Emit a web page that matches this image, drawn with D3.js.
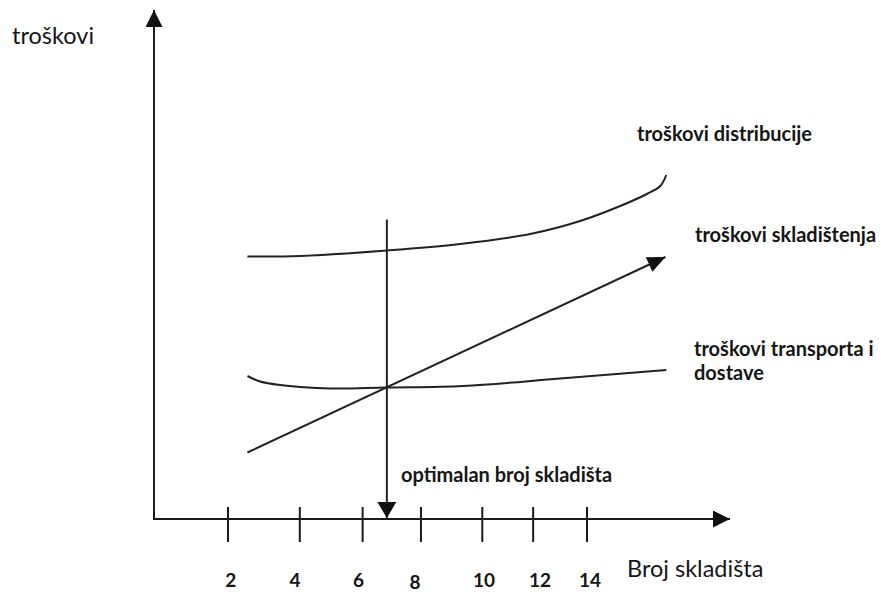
<!DOCTYPE html>
<html>
<head>
<meta charset="utf-8">
<script src="https://cdnjs.cloudflare.com/ajax/libs/d3/7.8.5/d3.min.js"></script>
<style>
  body { margin: 0; background: #fff; }
  svg { display: block; }
  text { font-family: Lato, "Open Sans", sans-serif; fill: #151515; }
  .lbl { font-weight: bold; font-size: 20px; }
  .tick-lbl { font-weight: bold; font-size: 19px; text-anchor: middle; }
  .axis-title { font-size: 23.5px; }
  .curve { fill: none; stroke: #222; stroke-width: 2px; }
  .axis { stroke: #1a1a1a; stroke-width: 2px; }
</style>
</head>
<body>
<svg id="chart"></svg>
<script>
// broj skladišta (x) -> troškovi (y), schematic values
const distribucija = [[2.65, 52.5], [4.41, 52.6], [7.31, 53.7], [9.76, 55.0], [12.1, 57.0],
                      [13.77, 59.6], [15.11, 62.6], [16.0, 65.0], [16.45, 66.6], [16.65, 68.8]]
const transport = [[2.65, 28.6], [3.07, 27.5], [3.74, 26.8], [5.41, 26.1], [7.31, 26.3],
                   [9.86, 26.6], [13.1, 28.1], [16.65, 29.8]]
const skladistenje = [[2.65, 13.3], [16.62, 52.4]]
const optimum = {x: 7.31, top: 59.9}

const tickPos = [2, 4.4, 6.5, 8.45, 10.5, 12.2, 14]
const tickLabels = ['2', '4', '6', '8', '10', '12', '14']
const labelPos = [2.09, 4.24, 6.36, 8.25, 10.56, 12.43, 14.1]

const width = 889
const height = 595

const svg = d3.select('#chart')
  .attr('width', width)
  .attr('height', height)

const x = d3.scaleLinear().domain([2, 14]).range([228, 587])
const y = d3.scaleLinear().domain([0, 100]).range([519, 19])

const x0 = 154, xEnd = 730, yTop = 10

const defs = svg.append('defs')
function arrowMarker (id, len, half) {
  defs.append('marker')
    .attr('id', id)
    .attr('markerUnits', 'userSpaceOnUse')
    .attr('viewBox', `0 ${-half} ${len} ${2 * half}`)
    .attr('markerWidth', len)
    .attr('markerHeight', 2 * half)
    .attr('refX', len)
    .attr('refY', 0)
    .attr('orient', 'auto')
    .append('path')
    .attr('d', `M0,${-half}L${len},0L0,${half}Z`)
    .attr('fill', '#111')
}
arrowMarker('arr-axis', 17, 8.5)
arrowMarker('arr-opt', 16, 9.5)
arrowMarker('arr-line', 18, 8)

// axes
svg.append('line').classed('axis', true)
  .attr('x1', x0).attr('y1', y(0)).attr('x2', x0).attr('y2', yTop)
  .attr('marker-end', 'url(#arr-axis)')
svg.append('line').classed('axis', true)
  .attr('x1', x0 - 1).attr('y1', y(0)).attr('x2', xEnd).attr('y2', y(0))
  .attr('marker-end', 'url(#arr-axis)')

svg.selectAll('.tick')
  .data(tickPos)
  .enter()
  .append('line')
  .classed('axis tick', true)
  .attr('x1', d => x(d)).attr('x2', d => x(d))
  .attr('y1', y(0) - 12).attr('y2', y(0) + 23)

svg.selectAll('.tick-lbl')
  .data(tickLabels)
  .enter()
  .append('text')
  .classed('tick-lbl', true)
  .attr('x', (d, i) => x(labelPos[i]))
  .attr('y', (d, i) => d === '8' ? 589 : 587)
  .text(d => d)

// curves
const line = d3.line()
  .x(d => x(d[0]))
  .y(d => y(d[1]))
  .curve(d3.curveCatmullRom.alpha(0.5))

svg.append('path').classed('curve', true)
  .attr('d', line(distribucija))
svg.append('path').classed('curve', true)
  .attr('d', line(transport))
svg.append('path').classed('curve', true)
  .attr('d', d3.line().x(d => x(d[0])).y(d => y(d[1]))(skladistenje))
  .attr('marker-end', 'url(#arr-line)')

svg.append('line').classed('curve', true)
  .attr('x1', x(optimum.x)).attr('y1', y(optimum.top))
  .attr('x2', x(optimum.x)).attr('y2', y(0) - 1)
  .attr('marker-end', 'url(#arr-opt)')

// texts
svg.append('text').classed('axis-title', true)
  .attr('x', 12).attr('y', 44).text('troškovi')
svg.append('text').classed('axis-title', true)
  .attr('x', 627).attr('y', 577).text('Broj skladišta')

const notes = [
  ['troškovi distribucije', 637, 141],
  ['troškovi skladištenja', 695, 242],
  ['troškovi transporta i', 694, 356],
  ['dostave', 694, 380],
  ['optimalan broj skladišta', 401, 482]
]
svg.selectAll('.lbl')
  .data(notes)
  .enter()
  .append('text')
  .classed('lbl', true)
  .attr('x', d => d[1])
  .attr('y', d => d[2])
  .text(d => d[0])
</script>
</body>
</html>
